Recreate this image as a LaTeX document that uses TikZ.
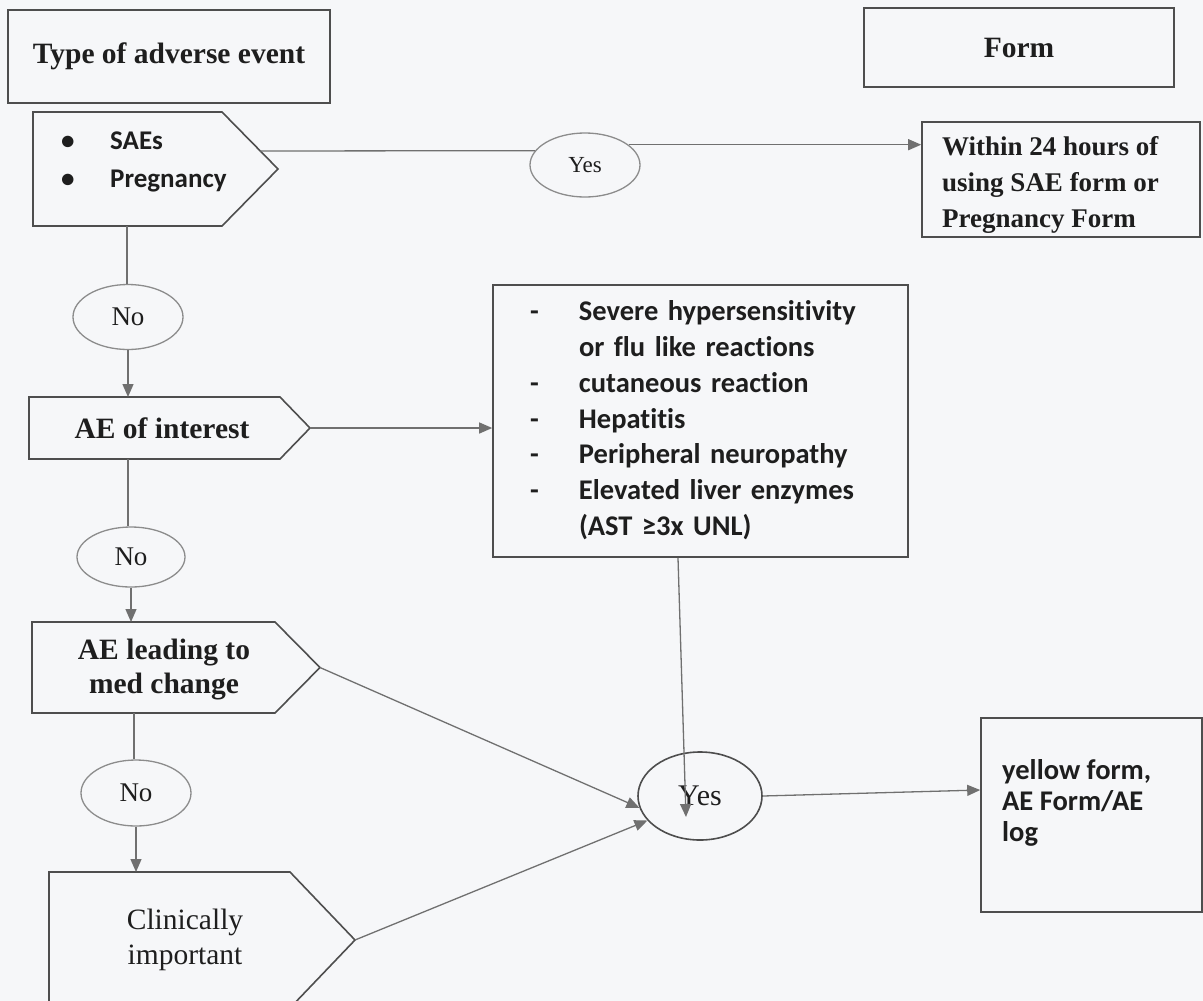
\documentclass[tikz,border=0pt]{standalone}
\usepackage{fontspec}
\setmainfont{Liberation Serif}
\newfontfamily\calib[Ligatures=NoCommon]{Carlito}
\usetikzlibrary{arrows.meta,shapes.geometric,calc}
\definecolor{bgc}{RGB}{246,247,249}
\definecolor{boxc}{RGB}{78,78,78}
\definecolor{linec}{RGB}{112,112,112}
\definecolor{ellc}{RGB}{140,140,140}
\definecolor{txtc}{RGB}{30,30,30}
\begin{document}
\begin{tikzpicture}[x=1bp,y=-1bp,
  box/.style={draw=boxc, line width=1.6bp, inner sep=0pt, text=txtc},
  pent/.style={draw=boxc, line width=1.6bp, line join=miter},
  oval/.style={ellipse, draw=ellc, line width=1.3bp, inner sep=0pt, text=txtc},
  conn/.style={draw=linec, line width=1.3bp},
  arr/.style={conn, -{Triangle[length=13bp,width=11bp]}},
  tb/.style={text=txtc, font=\fontsize{29.5bp}{34bp}\selectfont\bfseries},
  tr/.style={text=txtc, font=\fontsize{29.5bp}{35bp}\selectfont},
  cb/.style={text=txtc, font=\calib\fontsize{28.5bp}{35.8bp}\selectfont\bfseries}
]
\useasboundingbox (0,0) rectangle (1203,1001);
\clip (0,0) rectangle (1203,1001);
\fill[bgc] (0,0) rectangle (1203,1001);

% header boxes
\node[box, tb, minimum width=322bp, minimum height=93bp] (type) at (169,56.5) {Type of adverse event};
\node[box, tb, minimum width=310bp, minimum height=79bp] (form) at (1019,47.5) {Form};

% result boxes
\node[box, minimum width=278bp, minimum height=115bp] (within) at (1061,179.5) {};
\node[anchor=west, inner sep=0pt, align=left, text=txtc, font=\fontsize{27bp}{36bp}\selectfont\bfseries]
      (withinT) at (942,185) {Within 24 hours of\\using SAE form or\\Pregnancy Form};

\node[box, cb, minimum width=415bp, minimum height=272bp, inner xsep=37bp, text width=341bp, align=left] (big) at (700.5,421)
  {\begin{tabular}{@{}p{49bp}@{}l@{}}
   -&Severe hypersensitivity\\
    &or flu like reactions\\
   -&cutaneous reaction\\
   -&Hepatitis\\
   -&Peripheral neuropathy\\
   -&Elevated liver enzymes\\
    &(AST ≥3x UNL)
   \end{tabular}};

\node[box, minimum width=221bp, minimum height=194bp] (yellow) at (1091.5,815) {};
\node[anchor=north west, inner sep=0pt, align=left, text=txtc,
      font=\calib\fontsize{28.5bp}{31bp}\selectfont\bfseries] (yellowT) at (1002,759)
      {yellow form,\\AE Form/AE\\log};

% pentagons
\draw[pent] (33,112) -- (222,112) -- (278,169) coordinate (saetip) -- (222,226) -- (33,226) -- cycle;
\coordinate (saebot) at (127,226);
\coordinate (saeedge) at (260,151);
\node[anchor=west, inner sep=0pt, text=txtc, font=\calib\fontsize{27bp}{38bp}\selectfont\bfseries] (saeT) at (61,161)
  {\begin{tabular}{@{}p{49bp}@{}l@{}}•&SAEs\\•&Pregnancy\end{tabular}};

\draw[pent] (29,397) -- (280,397) -- (310,428) coordinate (aeitip) -- (280,459) -- (29,459) -- cycle;
\coordinate (aeitop) at (128,397);
\coordinate (aeibot) at (128,459);
\node[tb] (aei) at (162,428) {AE of interest};

\draw[pent] (32,622) -- (275,622) -- (320,667.5) coordinate (medtip) -- (275,713) -- (32,713) -- cycle;
\coordinate (medtop) at (132,622);
\coordinate (medbot) at (134,713);
\node[tb, align=center] (med) at (164,670) {AE leading to\\med change};

\draw[pent] (49,872) -- (290,872) -- (355,940) coordinate (clintip) -- (290,1008) -- (49,1008) -- cycle;
\coordinate (clintop) at (138,872);
\node[tr, align=center] (clin) at (185,939.5) {Clinically\\important};

% ellipses
\node[oval, minimum width=110bp, minimum height=64bp, font=\fontsize{23bp}{26bp}\selectfont] (yes1) at (585,165) {Yes};
\node[oval, minimum width=110bp, minimum height=65bp, font=\fontsize{27bp}{30bp}\selectfont] (no1) at (128,317) {No};
\node[oval, minimum width=108bp, minimum height=60bp, font=\fontsize{27bp}{30bp}\selectfont] (no2) at (131,557) {No};
\node[oval, minimum width=110bp, minimum height=66bp, font=\fontsize{27bp}{30bp}\selectfont] (no3) at (136,793) {No};
\node[oval, draw=boxc, line width=1.6bp, minimum width=124bp, minimum height=88bp, font=\fontsize{30bp}{34bp}\selectfont] (yes2) at (700,796) {Yes};

% connectors
\draw[conn] (saeedge) -- (yes1.164);
\draw[arr] (yes1.25) -- (yes1.25 -| within.west);
\draw[conn] (saebot) -- (saebot |- no1.north);
\draw[arr] (no1.south) -- (no1.south |- aeitop);
\draw[arr] (aeitip) -- (aeitip -| big.west);
\draw[conn] (aeibot) -- (aeibot |- no2.north);
\draw[arr] (no2.south) -- (no2.south |- medtop);
\draw[conn] (medbot) -- (medbot |- no3.north);
\draw[arr] (no3.south) -- (no3.south |- clintop);
\draw[arr] (medtip) -- (yes2.191);
\draw[arr] (clintip) -- (yes2.205);
\draw[arr] ($(big.south)+(-22.5,0)$) -- ($(yes2.center)+(-14,21)$);
\draw[arr] (yes2.east) -- ($(yellow.west)+(0,-25)$);
\end{tikzpicture}
\end{document}
